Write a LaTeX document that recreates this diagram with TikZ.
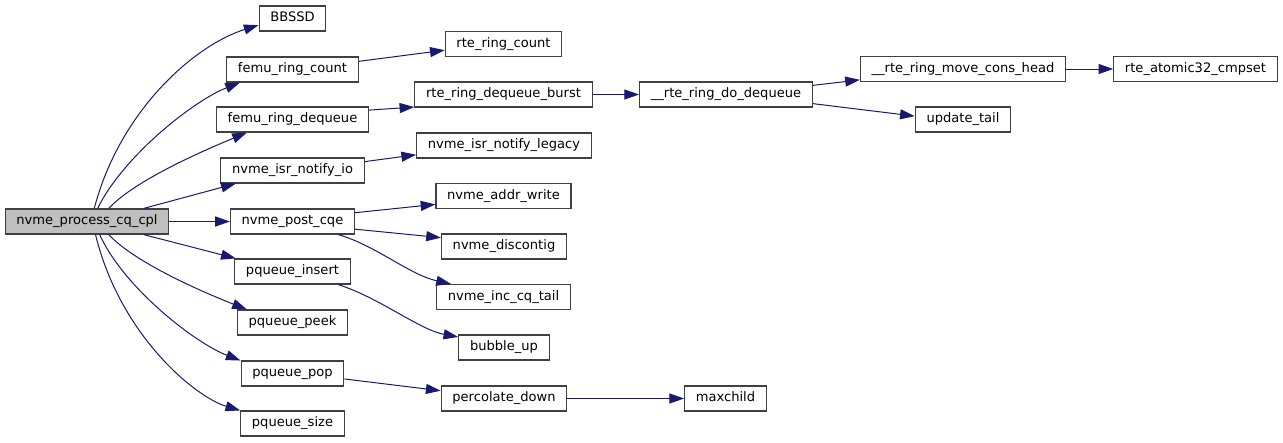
\documentclass[tikz,border=0pt]{standalone}
\usepackage{fontspec}
\setmainfont{DejaVu Sans}
\usepackage{xcolor}
\usetikzlibrary{arrows.meta}
\definecolor{dxEdge}{HTML}{191970}
\definecolor{dxLine}{HTML}{404040}
\definecolor{dxCur}{HTML}{BFBFBF}

\begin{document}
\begin{tikzpicture}[
  x=0.75pt, y=-0.75pt,
  font=\fontsize{9.8}{12}\selectfont,
  box/.style={draw=dxLine, line width=0.9pt, fill=#1, inner xsep=8.4pt,
    inner ysep=0pt, minimum height=18.75pt, text height=7.5pt, text depth=2.3pt},
  box/.default=white,
  arr/.style={-{Triangle[length=11pt,width=7.5pt]}, line width=0.75pt, dxEdge}
]
\useasboundingbox (0,0) rectangle (1283,443);
% caller
\node[box=dxCur] (main) at (87,221.5) {nvme\_process\_cq\_cpl};
% first column
\node[box] (bbssd)  at (292.5,18.5)  {BBSSD};
\node[box] (fcount) at (292.5,69.5)  {femu\_ring\_count};
\node[box] (fdeq)   at (292.5,119.5) {femu\_ring\_dequeue};
\node[box] (isr)    at (292.5,170.5) {nvme\_isr\_notify\_io};
\node[box] (post)   at (292.5,221.5) {nvme\_post\_cqe};
\node[box] (insert) at (292.5,271.5) {pqueue\_insert};
\node[box] (peek)   at (292.5,322.5) {pqueue\_peek};
\node[box] (pop)    at (292.5,373.5) {pqueue\_pop};
\node[box] (size)   at (292.5,423.5) {pqueue\_size};
% second column
\node[box] (rcount)  at (503.5,44)    {rte\_ring\_count};
\node[box] (rdeqb)   at (503.5,94.5)  {rte\_ring\_dequeue\_burst};
\node[box] (legacy)  at (504,145.5)   {nvme\_isr\_notify\_legacy};
\node[box] (addrw)   at (503.5,196)   {nvme\_addr\_write};
\node[box] (discont) at (504,246.5)   {nvme\_discontig};
\node[box] (inctail) at (503.5,297)   {nvme\_inc\_cq\_tail};
\node[box] (bubble)  at (504,347.5)   {bubble\_up};
\node[box] (percol)  at (504,398.5)   {percolate\_down};
% further columns
\node[box] (dodeq)    at (726,94.5)   {\_\_rte\_ring\_do\_dequeue};
\node[box] (maxch)    at (725.5,398.5) {maxchild};
\node[box] (movecons) at (963,69)     {\_\_rte\_ring\_move\_cons\_head};
\node[box] (update)   at (963,119.5)  {update\_tail};
\node[box] (cmpset)   at (1195.5,69)  {rte\_atomic32\_cmpset};
% calls from nvme_process_cq_cpl
\draw[arr] (main.61) .. controls (120,110) and (195,45) .. (bbssd.191);
\draw[arr] (main.51) .. controls (124,155) and (195,100) .. (fcount.194);
\draw[arr] (main.31) .. controls (135,180) and (205,150) .. (fdeq.196);
\draw[arr] (main.13) -- (isr.193);
\draw[arr] (main) -- (post);
\draw[arr] (main.-13) -- (insert.167);
\draw[arr] (main.-31) .. controls (135,263) and (205,293) .. (peek.164);
\draw[arr] (main.-46) .. controls (124,288) and (195,343) .. (pop.166);
\draw[arr] (main.-57) .. controls (120,335) and (195,397) .. (size.166);
% deeper calls
\draw[arr] (fcount.7) -- (rcount.186);
\draw[arr] (fdeq.7) -- (rdeqb.188);
\draw[arr] (isr.7) -- (legacy.186);
\draw[arr] (post.8) -- (addrw.187);
\draw[arr] (post.353) -- (discont.172);
\draw[arr] (post.344) .. controls (375,245) and (410,275) .. (inctail.166);
\draw[arr] (insert.344) .. controls (378,297) and (420,330) .. (bubble.167);
\draw[arr] (pop.354) -- (percol.173);
\draw[arr] (percol) -- (maxch);
\draw[arr] (rdeqb) -- (dodeq);
\draw[arr] (dodeq.6) -- (movecons.186);
\draw[arr] (dodeq.354) -- (update.176);
\draw[arr] (movecons) -- (cmpset);
\end{tikzpicture}
\end{document}
